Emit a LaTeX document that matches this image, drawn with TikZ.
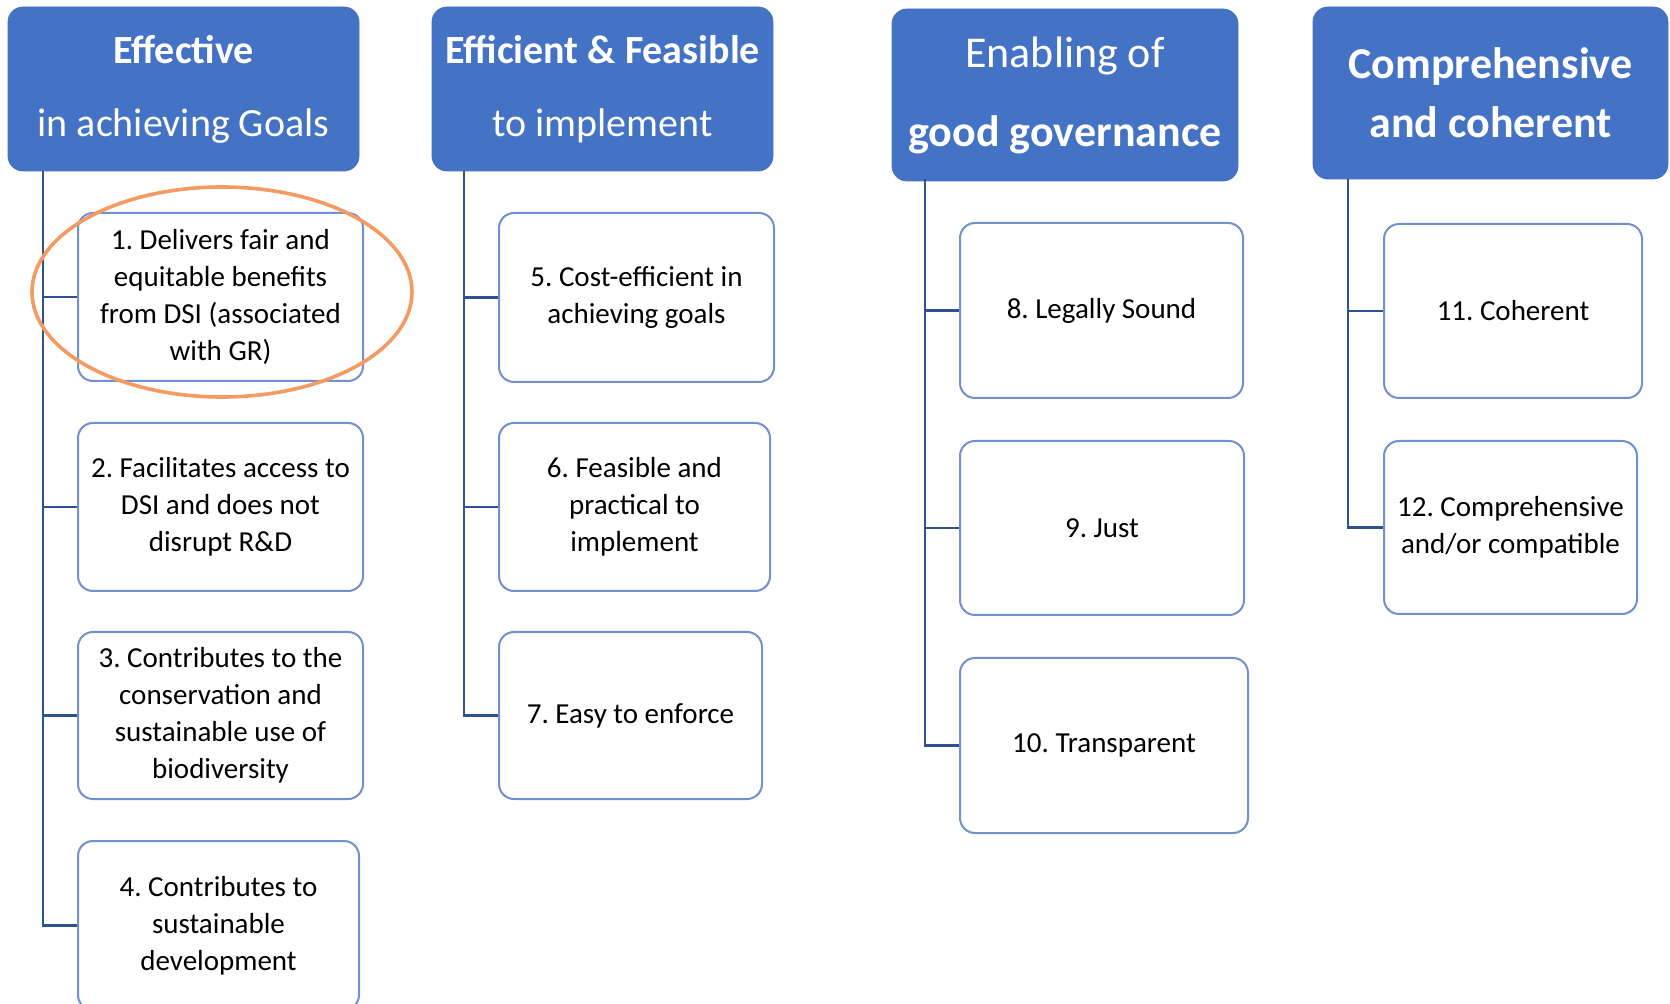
\documentclass[tikz,border=0pt]{standalone}
\usepackage{fontspec}
\setmainfont{Carlito}
\frenchspacing
\usetikzlibrary{positioning}
\definecolor{hdrblue}{RGB}{68,114,196}
\definecolor{edgeblue}{RGB}{112,144,208}
\definecolor{linkblue}{RGB}{47,82,143}
\definecolor{ringorange}{RGB}{244,154,98}
\tikzset{hdr/.style={rectangle,fill=hdrblue,draw=hdrblue,rounded corners=7.5pt,text=white,align=center,inner sep=2pt},crit/.style={rectangle,draw=edgeblue,line width=1pt,fill=white,rounded corners=7.5pt,align=center,inner sep=2pt,font=\fontsize{14.5}{18.5}\selectfont},link/.style={draw=linkblue,line width=1.35pt},ring/.style={draw=ringorange,line width=1.8pt}}

\begin{document}
\begin{tikzpicture}[x=0.5pt,y=-0.5pt]
\useasboundingbox (0,0) rectangle (1670,1004);
\node[hdr, minimum width=175.5pt, minimum height=82pt, font=\fontsize{20}{36.5}\selectfont] (h1) at (183.5,89) {\textbf{Effective}\\in achieving Goals};
\node[hdr, minimum width=170.5pt, minimum height=82pt, font=\fontsize{20}{36.5}\selectfont] (h2) at (602.5,89) {\textbf{Efficient \& Feasible}\\to implement};
\node[hdr, minimum width=173pt, minimum height=86pt, font=\fontsize{22}{39.5}\selectfont] (h3) at (1065,95) {Enabling of\\\textbf{good governance}};
\node[hdr, minimum width=177.5pt, minimum height=86pt, font=\fontsize{22}{29.5}\selectfont\bfseries] (h4) at (1490.5,93) {Comprehensive\\and coherent};
\node[crit, minimum width=142.5pt, minimum height=84pt] (b1) at (220.5,297) {1. Delivers fair and\\equitable benefits\\from DSI (associated\\with GR)};
\node[crit, minimum width=142.5pt, minimum height=84pt] (b2) at (220.5,507) {2. Facilitates access to\\DSI and does not\\disrupt R\&D};
\node[crit, minimum width=142.5pt, minimum height=83.5pt] (b3) at (220.5,715.5) {3. Contributes to the\\conservation and\\sustainable use of\\biodiversity};
\node[crit, minimum width=140.5pt, minimum height=84.5pt] (b4) at (218.5,925.5) {4. Contributes to\\sustainable\\development};
\node[crit, minimum width=137.5pt, minimum height=84.5pt] (b5) at (636.5,297.5) {5. Cost-efficient in\\achieving goals};
\node[crit, minimum width=135.5pt, minimum height=84pt] (b6) at (634.5,507) {6. Feasible and\\practical to\\implement};
\node[crit, minimum width=131.5pt, minimum height=83.5pt] (b7) at (630.5,715.5) {7. Easy to enforce};
\node[crit, minimum width=141.5pt, minimum height=87.5pt] (b8) at (1101.5,310.5) {8. Legally Sound};
\node[crit, minimum width=142pt, minimum height=87pt] (b9) at (1102,528) {9. Just};
\node[crit, minimum width=144pt, minimum height=87.5pt] (b10) at (1104,745.5) {10. Transparent};
\node[crit, minimum width=129pt, minimum height=87pt] (b11) at (1513,311) {11. Coherent};
\node[crit, minimum width=126.5pt, minimum height=86.5pt] (b12) at (1510.5,527.5) {12. Comprehensive\\and/or compatible};
\coordinate (t1) at (43,171);
\coordinate (t2) at (464,171);
\coordinate (t3) at (925,179);
\coordinate (t4) at (1348,179);
\draw[link] (t1) |- (b1.west);
\draw[link] (t1) |- (b2.west);
\draw[link] (t1) |- (b3.west);
\draw[link] (t1) |- (b4.west);
\draw[link] (t2) |- (b5.west);
\draw[link] (t2) |- (b6.west);
\draw[link] (t2) |- (b7.west);
\draw[link] (t3) |- (b8.west);
\draw[link] (t3) |- (b9.west);
\draw[link] (t3) |- (b10.west);
\draw[link] (t4) |- (b11.west);
\draw[link] (t4) |- (b12.west);
\draw[ring] (222,292) ellipse [x radius=95pt, y radius=52.5pt];
\end{tikzpicture}
\end{document}
